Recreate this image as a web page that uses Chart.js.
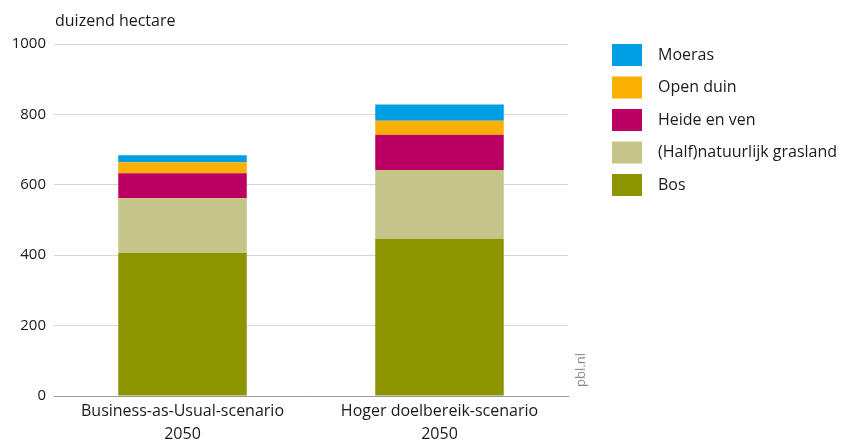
<!DOCTYPE html>
<html>
<head>
<meta charset="utf-8">
<script src="https://cdn.jsdelivr.net/npm/chart.js@4/dist/chart.umd.min.js"></script>
<style>
  html, body { margin: 0; padding: 0; background: #fff; }
  #wrap { width: 844px; height: 441px; position: relative; }
</style>
</head>
<body>
<div id="wrap"><canvas id="chart"></canvas></div>
<script>
"use strict";

// scenario's (x-as), twee regels per label
const scenarios = [['Business-as-Usual-scenario', '2050'], ['Hoger doelbereik-scenario', '2050']]

// waarden in duizend hectare, van onder naar boven gestapeld
const bos = [406, 446]
const grasland = [156, 196]
const heide = [71, 100]
const openDuin = [31, 40]
const moeras = [20, 46]

const yTicks = [0, 200, 400, 600, 800, 1000]

const fontFam = '"Open Sans", "DejaVu Sans", sans-serif'

// legenda + eenheid + bronvermelding zelf tekenen
const extras = {
    id: 'extras',
    afterDraw(chart) {
        const ctx = chart.ctx
        ctx.save()
        ctx.fillStyle = '#1a1a1a'
        ctx.font = '16px ' + fontFam
        ctx.textBaseline = 'middle'
        ctx.textAlign = 'left'
        ctx.fillText('duizend hectare', 55, 21)

        // legenda: bovenste laag eerst
        const ds = chart.data.datasets.slice().reverse()
        ds.forEach(function (d, i) {
            const y = 44 + i * 32.5
            ctx.fillStyle = d.backgroundColor
            ctx.fillRect(612, y, 30, 22)
            ctx.fillStyle = '#1a1a1a'
            ctx.fillText(d.label, 658, y + 11)
        })

        // pbl.nl verticaal
        ctx.translate(581, 370)
        ctx.rotate(-Math.PI / 2)
        ctx.fillStyle = '#8a8a8a'
        ctx.font = '13px ' + fontFam
        ctx.textAlign = 'center'
        ctx.fillText('pbl.nl', 0, 0)
        ctx.restore()
    }
}

new Chart(document.getElementById('chart'), {
    type: 'bar',
    data: {
        labels: scenarios,
        datasets: [
            { label: 'Bos', data: bos, backgroundColor: '#8c9400' },
            { label: '(Half)natuurlijk grasland', data: grasland, backgroundColor: '#c5c589' },
            { label: 'Heide en ven', data: heide, backgroundColor: '#ba0062' },
            { label: 'Open duin', data: openDuin, backgroundColor: '#f9b000' },
            { label: 'Moeras', data: moeras, backgroundColor: '#009fe3' }
        ]
    },
    options: {
        responsive: true,
        maintainAspectRatio: false,
        animation: false,
        layout: { padding: { top: 44, right: 276, bottom: 0, left: 0 } },
        datasets: { bar: { barPercentage: 0.5, categoryPercentage: 1.0, borderWidth: 0 } },
        plugins: { legend: { display: false }, tooltip: { enabled: false } },
        scales: {
            x: {
                stacked: true,
                grid: { display: false, drawTicks: false },
                border: { display: true, color: '#9a9a9a', width: 1 },
                ticks: { color: '#1a1a1a', font: { family: fontFam, size: 16, lineHeight: 1.45 }, padding: 4 },
                afterFit(scale) { scale.height = 45 }
            },
            y: {
                stacked: true,
                min: 0,
                max: 1000,
                afterBuildTicks(scale) { scale.ticks = yTicks.map(v => ({ value: v })) },
                grid: { color: '#d6d6d6', drawTicks: false },
                border: { display: false },
                ticks: {
                    color: '#1a1a1a', font: { family: fontFam, size: 15 }, padding: 8,
                    callback: v => String(v)
                },
                afterFit(scale) { scale.width = 54 }
            }
        }
    },
    plugins: [extras]
})
</script>
</body>
</html>
